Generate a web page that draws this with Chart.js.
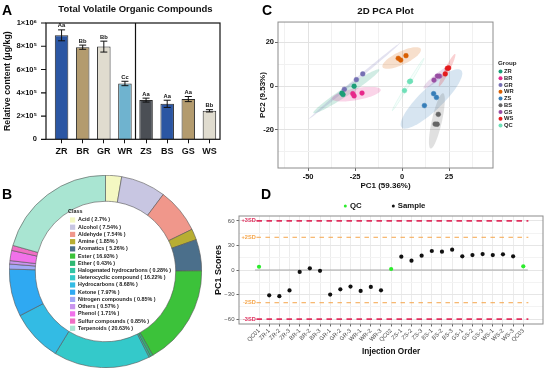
<!DOCTYPE html>
<html>
<head>
<meta charset="utf-8">
<script src="https://cdn.jsdelivr.net/npm/chart.js@4.4.1/dist/chart.umd.min.js"></script>
<style>
  html, body { margin: 0; padding: 0; background: #fff; }
  body { width: 550px; height: 372px; position: relative; overflow: hidden; font-family: 'Liberation Sans', Arial, sans-serif; }
  canvas { position: absolute; }
  .tag { position: absolute; font-weight: bold; font-size: 14px; line-height: 1; color: #000; }
</style>
</head>
<body>
<canvas id="barChart" width="230" height="165" style="left:0;top:0"></canvas>
<canvas id="pcaChart" width="300" height="192" style="left:250px;top:0"></canvas>
<canvas id="classChart" width="193" height="193" style="left:9px;top:175px"></canvas>
<canvas id="qcChart" width="340" height="186" style="left:210px;top:186px"></canvas>
<div class="tag" style="left:2px;top:3px">A</div>
<div class="tag" style="left:2px;top:187px">B</div>
<div class="tag" style="left:262px;top:3px">C</div>
<div class="tag" style="left:261px;top:187px">D</div>
<script>
const FONT = "'Liberation Sans', Arial, sans-serif";
Chart.defaults.font.family = FONT;
Chart.defaults.color = '#111';

// A - total COV
const barCategories = ['ZR', 'BR', 'GR', 'WR', 'ZS', 'BS', 'GS', 'WS'];
const barValues = [894000, 792000, 797000, 480000, 337000, 305000, 346000, 245000];
const barErrors = [47000, 18000, 47000, 19000, 17000, 31000, 22000, 10000];
const barLetters = ['Aa', 'Bb', 'Bb', 'Cc', 'Aa', 'Aa', 'Aa', 'Bb'];
const barColors = ['#2b56a3', '#b39b6e', '#e0dccf', '#6fb3cf', '#4b4f55', '#2b56a3', '#b39b6e', '#e0dccf'];
const barYTicks = ['0', '2×10⁵', '4×10⁵', '6×10⁵', '8×10⁵', '1×10⁶'];

// B - clases
const classNames = ['Acid', 'Alcohol', 'Aldehyde', 'Amine', 'Aromatics', 'Ester', 'Ether',
  'Halogenated hydrocarbons', 'Heterocyclic compound', 'Hydrocarbons', 'Ketone',
  'Nitrogen compounds', 'Others', 'Phenol', 'Sulfur compounds', 'Terpenoids'];
const classShares = [2.7, 7.54, 7.54, 1.85, 5.26, 16.93, 0.43, 0.28, 16.22, 8.68, 7.97, 0.85, 0.57, 1.71, 0.85, 20.63];
const classColors = ['#f4f8c2', '#c8c6e2', '#f0978b', '#b8ae32', '#4b6f8b', '#3cc23a', '#2fb874', '#33c4a4',
  '#34c9ca', '#33bbe4', '#2fa9f2', '#a2a9f6', '#c994ee', '#f171ea', '#f06fc4', '#a9e5d2'];

// C - PCA
const pcaGroups = ['ZR', 'BR', 'GR', 'WR', 'ZS', 'BS', 'GS', 'WS', 'QC'];
const pcaColors = ['#1b9e77', '#e7298a', '#7570b3', '#d95f02', '#377eb8', '#666666', '#984ea3', '#e41a1c', '#6ee0b8'];
const pcaPC1 = [[-32.0, -31.4, -25.5], [-26.2, -25.5, -21.3], [-30.7, -24.3, -20.9], [-2.0, -0.7, 2.1],
  [16.8, 18.3, 11.9], [19.3, 17.6, 18.7], [17.0, 18.8, 19.9], [23.0, 24.1, 24.8], [4.0, 1.3, 4.5]];
const pcaPC2 = [[-3.3, -3.9, -0.1], [-3.5, -4.5, -3.2], [-1.5, 2.9, 5.5], [12.6, 11.8, 13.8],
  [-3.5, -5.2, -8.9], [-12.9, -17.3, -17.4], [2.7, 4.5, 4.5], [5.5, 8.0, 8.2], [2.0, -2.1, 2.2]];
const pcaXGrid = [-62.5, -50, -37.5, -25, -12.5, 0, 12.5, 25, 37.5];
const pcaXMajor = [-50, -25, 0, 25];
const pcaYGrid = [-30, -20, -10, 0, 10, 20];
const pcaYMajor = [-20, 0, 20];

// D - PC1 por orden de inyección
const injectionOrder = ['QC01', 'ZR-1', 'ZR-2', 'ZR-3', 'BR-1', 'BR-2', 'BR-3', 'GR-1', 'GR-2', 'GR-3',
  'WR-1', 'WR-2', 'WR-3', 'QC02', 'ZS-1', 'ZS-2', 'ZS-3', 'BS-1', 'BS-2', 'BS-3',
  'GS-1', 'GS-2', 'GS-3', 'WS-1', 'WS-2', 'WS-3', 'QC03'];
const pc1Scores = [4.0, -31, -32, -25, -2.4, 2, -1, -30, -23.6, -20.3, -25.6, -20.7, -24.8, 1.2,
  16.3, 11.4, 17.5, 23.2, 22.4, 24.8, 16.7, 18.3, 19.5, 18.3, 19.1, 16.7, 4.5];
const sdLevels = [60, 40, -40, -60];
const sdLabels = ['+3SD', '+2SD', '-2SD', '-3SD'];
const sdColors = ['#e0305e', '#f5a54a', '#f5a54a', '#e0305e'];
const qcYGrid = [-60, -45, -30, -15, 0, 15, 30, 45, 60];
const qcYMajor = [-60, -30, 0, 30, 60];

function rgba(hex, a) {
  const n = parseInt(hex.slice(1), 16);
  return `rgba(${n >> 16},${(n >> 8) & 255},${n & 255},${a})`;
}

// marco completo alrededor del área de dibujo (gap = eje Y separado a la izquierda)
const frame = {
  id: 'frame',
  afterDraw(chart, args, opts) {
    const { ctx, chartArea: a } = chart;
    const gap = opts.gap || 0;
    ctx.save();
    ctx.strokeStyle = opts.color;
    ctx.lineWidth = opts.width;
    ctx.strokeRect(a.left - gap, a.top, a.right - a.left + gap, a.bottom - a.top);
    if (opts.yTicks) {
      const y = chart.scales.y;
      ctx.beginPath();
      y.ticks.forEach(t => {
        const py = y.getPixelForValue(t.value);
        ctx.moveTo(a.left - gap - 5, py);
        ctx.lineTo(a.left - gap, py);
      });
      ctx.stroke();
    }
    ctx.restore();
  }
};

// ---------- A ----------
const errorBars = {
  id: 'errorBars',
  afterDatasetsDraw(chart) {
    const { ctx, scales: { x, y }, chartArea: a } = chart;
    ctx.save();
    ctx.strokeStyle = '#111';
    ctx.fillStyle = '#111';
    ctx.lineWidth = 1;
    ctx.font = `bold 5.8px ${FONT}`;
    ctx.textAlign = 'center';
    ctx.textBaseline = 'bottom';
    barValues.forEach((v, i) => {
      const px = x.getPixelForValue(i);
      const top = y.getPixelForValue(v + barErrors[i]);
      const bot = y.getPixelForValue(v - barErrors[i]);
      ctx.beginPath();
      ctx.moveTo(px, top); ctx.lineTo(px, bot);
      ctx.moveTo(px - 3.5, top); ctx.lineTo(px + 3.5, top);
      ctx.moveTo(px - 3.5, bot); ctx.lineTo(px + 3.5, bot);
      ctx.stroke();
      ctx.fillText(barLetters[i], px, top - 1.2);
    });
    const sx = x.getPixelForValue(3.5);
    ctx.lineWidth = 1.2;
    ctx.beginPath();
    ctx.moveTo(sx, a.top); ctx.lineTo(sx, a.bottom);
    ctx.stroke();
    ctx.restore();
  }
};

new Chart(document.getElementById('barChart'), {
  type: 'bar',
  data: {
    labels: barCategories,
    datasets: [{
      data: barValues,
      backgroundColor: barColors,
      borderColor: '#2a2a2a',
      borderWidth: 1,
      barPercentage: 0.64,
      categoryPercentage: 1
    }]
  },
  options: {
    responsive: false, animation: false, devicePixelRatio: 1,
    layout: { padding: { right: 10 } },
    plugins: {
      legend: { display: false }, tooltip: { enabled: false },
      title: { display: true, fullSize: false, text: 'Total Volatile Organic Compounds', color: '#111',
        font: { size: 9.5, weight: 'bold' }, padding: { top: 3.6, bottom: 8 } },
      frame: { color: '#111', width: 1.2, gap: 5, yTicks: true }
    },
    scales: {
      x: {
        offset: true,
        afterFit: s => { s.height = 25.7; },
        ticks: { autoSkip: false, maxRotation: 0, color: '#111',
          font: { size: 9, weight: 'bold' }, padding: 3 },
        grid: { offset: false, drawOnChartArea: false, color: '#111', tickLength: 4 },
        border: { display: false }
      },
      y: {
        min: 0, max: 1000000,
        afterFit: s => { s.width = 51; },
        ticks: { stepSize: 200000, callback: (v, i) => barYTicks[i], color: '#111',
          font: { size: 7.5, weight: 'bold' }, padding: 14 },
        grid: { display: false, drawTicks: false },
        border: { display: false },
        title: { display: true, text: 'Relative content (μg/kg)', color: '#111',
          font: { size: 8.8, weight: 'bold' }, padding: { top: 2.6, bottom: 0 } }
      }
    }
  },
  plugins: [errorBars, frame]
});

// ---------- B ----------
const classLegend = {
  id: 'classLegend',
  afterDraw(chart) {
    const { ctx } = chart;
    const ds = chart.data.datasets[0];
    ctx.save();
    ctx.fillStyle = '#222';
    ctx.textBaseline = 'middle';
    ctx.font = `bold 5.4px ${FONT}`;
    ctx.fillText('Class', 59, 37);
    chart.data.labels.forEach((name, i) => {
      const y = 45 + i * 7.22;
      ctx.fillStyle = ds.backgroundColor[i];
      ctx.fillRect(61, y - 2.6, 5.2, 5.2);
      ctx.fillStyle = '#222';
      ctx.fillText(`${name} ( ${ds.data[i]}% )`, 69, y);
    });
    ctx.restore();
  }
};

new Chart(document.getElementById('classChart'), {
  type: 'doughnut',
  data: {
    labels: classNames,
    datasets: [{ data: classShares, backgroundColor: classColors, borderColor: '#555', borderWidth: 0.6 }]
  },
  options: {
    responsive: false, animation: false, devicePixelRatio: 1,
    cutout: '73%',
    layout: { padding: 0 },
    plugins: { legend: { display: false }, tooltip: { enabled: false } }
  },
  plugins: [classLegend]
});

// ---------- C ----------
const ellipses = {
  id: 'ellipses',
  beforeDatasetsDraw(chart) {
    const { ctx, scales: { x, y } } = chart;
    ctx.save();
    ctx.beginPath();
    const a0 = chart.chartArea;
    ctx.rect(a0.left, a0.top, a0.right - a0.left, a0.bottom - a0.top);
    ctx.clip();
    chart.data.datasets.forEach((ds, g) => {
      const pts = ds.data, n = pts.length;
      const mx = pts.reduce((s, p) => s + p.x, 0) / n;
      const my = pts.reduce((s, p) => s + p.y, 0) / n;
      let sxx = 0, syy = 0, sxy = 0;
      pts.forEach(p => { sxx += (p.x - mx) ** 2; syy += (p.y - my) ** 2; sxy += (p.x - mx) * (p.y - my); });
      sxx /= n - 1; syy /= n - 1; sxy /= n - 1;
      const tr = sxx + syy, det = sxx * syy - sxy * sxy;
      const disc = Math.sqrt(Math.max(tr * tr / 4 - det, 0));
      const k = 4.9;
      const ra = k * Math.sqrt(tr / 2 + disc), rb = k * Math.sqrt(Math.max(tr / 2 - disc, 0.02));
      const th = 0.5 * Math.atan2(2 * sxy, sxx - syy);
      ctx.beginPath();
      for (let t = 0; t <= 64; t++) {
        const u = t / 64 * Math.PI * 2;
        const dx = ra * Math.cos(u) * Math.cos(th) - rb * Math.sin(u) * Math.sin(th);
        const dy = ra * Math.cos(u) * Math.sin(th) + rb * Math.sin(u) * Math.cos(th);
        const px = x.getPixelForValue(mx + dx), py = y.getPixelForValue(my + dy);
        t ? ctx.lineTo(px, py) : ctx.moveTo(px, py);
      }
      ctx.closePath();
      const last = g === chart.data.datasets.length - 1;
      ctx.fillStyle = rgba(pcaColors[g], last ? 0.06 : 0.2);
      ctx.fill();
      if (last) { ctx.strokeStyle = rgba(pcaColors[g], 0.25); ctx.lineWidth = 0.6; ctx.stroke(); }
    });
    ctx.restore();
  }
};

const groupLegend = {
  id: 'groupLegend',
  afterDraw(chart) {
    const { ctx } = chart;
    ctx.save();
    ctx.textBaseline = 'middle';
    ctx.fillStyle = '#222';
    ctx.font = `bold 6.2px ${FONT}`;
    ctx.fillText('Group', 248, 63);
    ctx.font = `bold 5.8px ${FONT}`;
    chart.data.datasets.forEach((ds, i) => {
      const y = 71.5 + i * 6.75;
      ctx.beginPath();
      ctx.arc(250.5, y, 2, 0, Math.PI * 2);
      ctx.fillStyle = pcaColors[i];
      ctx.fill();
      ctx.fillStyle = '#222';
      ctx.fillText(ds.label, 254, y);
    });
    ctx.restore();
  }
};

new Chart(document.getElementById('pcaChart'), {
  type: 'scatter',
  data: {
    datasets: pcaGroups.map((g, i) => ({
      label: g,
      data: pcaPC1[i].map((v, j) => ({ x: v, y: pcaPC2[i][j] })),
      backgroundColor: pcaColors[i],
      borderColor: rgba(pcaColors[i], 0.45),
      borderWidth: 1,
      pointRadius: 2.4
    }))
  },
  options: {
    responsive: false, animation: false, devicePixelRatio: 1,
    layout: { padding: { right: 57, bottom: 1 } },
    plugins: {
      legend: { display: false }, tooltip: { enabled: false },
      title: { display: true, fullSize: false, text: '2D PCA Plot', color: '#111',
        font: { size: 9.7, weight: 'bold' }, padding: { top: 6, bottom: 4.4 } },
      frame: { color: '#8c8c8c', width: 1 }
    },
    scales: {
      x: {
        type: 'linear', min: -66, max: 48.4,
        afterBuildTicks: s => { s.ticks = pcaXGrid.map(v => ({ value: v })); },
        afterFit: s => { s.height = 23; },
        ticks: { autoSkip: false, maxRotation: 0, callback: v => pcaXMajor.includes(v) ? String(v) : '',
          color: '#111', font: { size: 7.5, weight: 'bold' }, padding: 1 },
        grid: {
          color: c => pcaXMajor.includes(c.tick.value) ? '#e2e2e2' : '#f1f1f1',
          tickColor: c => pcaXMajor.includes(c.tick.value) ? '#666' : 'rgba(0,0,0,0)',
          tickLength: 3
        },
        border: { display: false },
        title: { display: true, text: 'PC1 (59.36%)', color: '#111',
          font: { size: 8, weight: 'bold' }, padding: 0 }
      },
      y: {
        min: -37.3, max: 29.1,
        afterBuildTicks: s => { s.ticks = pcaYGrid.map(v => ({ value: v })); },
        afterFit: s => { s.width = 28; },
        ticks: { callback: v => pcaYMajor.includes(v) ? String(v) : '', color: '#111',
          font: { size: 7.5, weight: 'bold' }, padding: 1 },
        grid: {
          color: c => pcaYMajor.includes(c.tick.value) ? '#e2e2e2' : '#f1f1f1',
          tickColor: c => pcaYMajor.includes(c.tick.value) ? '#666' : 'rgba(0,0,0,0)',
          tickLength: 3
        },
        border: { display: false },
        title: { display: true, text: 'PC2 (9.53%)', color: '#111',
          font: { size: 8, weight: 'bold' }, padding: { top: 8.2, bottom: 0 } }
      }
    }
  },
  plugins: [ellipses, frame, groupLegend]
});

// ---------- D ----------
const sdLines = {
  id: 'sdLines',
  beforeDatasetsDraw(chart) {
    const { ctx, scales: { x, y } } = chart;
    ctx.save();
    // línea central
    ctx.strokeStyle = '#a8a8a8';
    ctx.lineWidth = 1;
    ctx.beginPath();
    ctx.moveTo(x.getPixelForValue(-0.4), y.getPixelForValue(0));
    ctx.lineTo(x.getPixelForValue(26.45), y.getPixelForValue(0));
    ctx.stroke();
    sdLevels.forEach((lv, i) => {
      const outer = Math.abs(lv) === 60;
      const py = y.getPixelForValue(lv);
      ctx.strokeStyle = sdColors[i];
      ctx.lineWidth = outer ? 1.6 : 1;
      ctx.setLineDash(outer ? [5.5, 4.5] : [4.5, 4.5]);
      ctx.beginPath();
      ctx.moveTo(x.getPixelForValue(-0.25), py);
      ctx.lineTo(x.getPixelForValue(26.5), py);
      ctx.stroke();
      ctx.setLineDash([]);
      ctx.fillStyle = sdColors[i];
      ctx.font = `bold 5.6px ${FONT}`;
      ctx.textAlign = 'right';
      ctx.textBaseline = 'middle';
      ctx.fillText(sdLabels[i], x.getPixelForValue(-0.33), py);
    });
    ctx.restore();
  }
};

const qcLegend = {
  id: 'qcLegend',
  afterDraw(chart) {
    const { ctx } = chart;
    ctx.save();
    ctx.textBaseline = 'middle';
    ctx.font = `bold 7.8px ${FONT}`;
    chart.data.datasets.forEach(ds => {
      const [dx, tx] = ds.label === 'QC' ? [135.3, 140] : [183.3, 187.7];
      ctx.beginPath();
      ctx.arc(dx, 20, 1.5, 0, Math.PI * 2);
      ctx.fillStyle = ds.backgroundColor;
      ctx.fill();
      ctx.fillStyle = '#111';
      ctx.fillText(ds.label, tx, 20);
    });
    ctx.restore();
  }
};

const qcPoints = [], samplePoints = [];
injectionOrder.forEach((name, i) => {
  (name.startsWith('QC') ? qcPoints : samplePoints).push({ x: i, y: pc1Scores[i] });
});

new Chart(document.getElementById('qcChart'), {
  type: 'scatter',
  data: {
    datasets: [
      { label: 'QC', data: qcPoints, backgroundColor: '#2cec2c', borderWidth: 0, pointRadius: 2.1 },
      { label: 'Sample', data: samplePoints, backgroundColor: '#111', borderWidth: 0, pointRadius: 2.1 }
    ]
  },
  options: {
    responsive: false, animation: false, devicePixelRatio: 1,
    layout: { padding: { top: 30, right: 7, bottom: 15, left: 0 } },
    plugins: {
      legend: { display: false }, tooltip: { enabled: false },
      frame: { color: '#8c8c8c', width: 1 }
    },
    scales: {
      x: {
        type: 'linear', min: -1.97, max: 27.94,
        afterBuildTicks: s => { s.ticks = injectionOrder.map((_, i) => ({ value: i })); },
        afterFit: s => { s.height = 33; },
        ticks: { autoSkip: false, minRotation: 45, maxRotation: 45, callback: v => injectionOrder[v],
          color: '#4d4d4d', font: { size: 5.8 }, padding: 1 },
        grid: { color: '#ececec', tickColor: '#666', tickLength: 2.5 },
        border: { display: false },
        title: { display: true, text: 'Injection Order', color: '#111',
          font: { size: 8.2, weight: 'bold' }, padding: 0 }
      },
      y: {
        min: -66, max: 66,
        afterBuildTicks: s => { s.ticks = qcYGrid.map(v => ({ value: v })); },
        afterFit: s => { s.width = 29; },
        ticks: { callback: v => qcYMajor.includes(v) ? String(v).replace('-', '−') : '',
          color: '#4d4d4d', font: { size: 6 }, padding: 2 },
        grid: {
          color: c => qcYMajor.includes(c.tick.value) ? '#e6e6e6' : '#f3f3f3',
          tickColor: c => qcYMajor.includes(c.tick.value) ? '#666' : 'rgba(0,0,0,0)',
          tickLength: 2.5
        },
        border: { display: false },
        title: { display: true, text: 'PC1 Scores', color: '#111',
          font: { size: 9, weight: 'bold' }, padding: { top: 3.6, bottom: 0 } }
      }
    }
  },
  plugins: [sdLines, frame, qcLegend]
});
</script>
</body>
</html>
